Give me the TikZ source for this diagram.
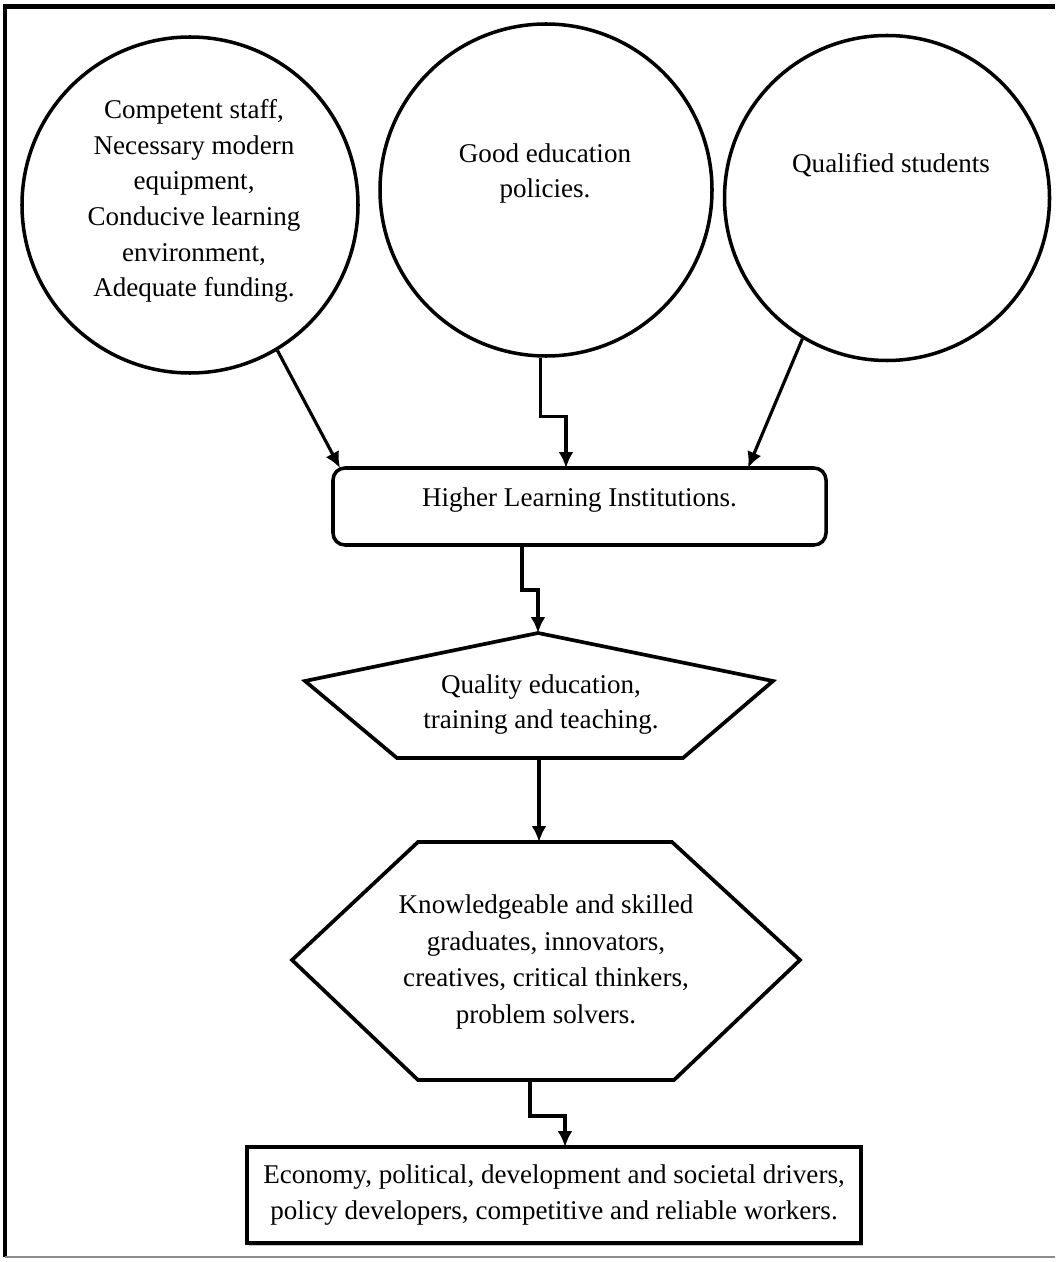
\documentclass[tikz,border=0pt]{standalone}
\usepackage{fontspec}
\setmainfont{Liberation Serif}
\usepackage{tikz}
\usetikzlibrary{positioning}
\usetikzlibrary{shapes}
\usetikzlibrary{arrows.meta}
\usetikzlibrary{shadows}
\tikzset{
  arrow_flow/.style={-{Latex[length=0.32cm, width=0.30cm]}, line width=1.8pt, color=black!100},
  frame_line/.style={line width=2.6pt, color=black!100},
  input_circle/.style={circle, draw, color=black!100, line width=2pt, inner sep=0},
  shape_text/.style={align=center, inner sep=0},
  shape_line/.style={line width=2.1pt, color=black!100, line join=miter},
  hli_box/.style={rectangle, rounded corners=0.24cm, draw, line width=2pt, minimum width=9.86cm, minimum height=1.54cm, text height=0.3cm, text depth=0.3cm},
  outcome_box/.style={rectangle, draw, line width=2.6pt, minimum width=12.28cm, minimum height=1.92cm, align=center, fill=white,
    drop shadow={shadow xshift=0.03cm, shadow yshift=-0.05cm, opacity=0.45}}}

\begin{document}
\begin{tikzpicture}[font=\fontsize{15.4}{20.3}\selectfont]
\useasboundingbox (0,0) rectangle (21.1,-25.24);

%% Frame
\draw[frame_line] (0.10,-25.14) -- (0.10,-0.13) -- (21.1,-0.13);
\draw[black!45, line width=0.8pt] (0.10,-25.14) -- (21.1,-25.14);

%% Inputs
\node[input_circle, minimum size=6.72cm] at (3.80,-4.10)  (staff) {};
\node[input_circle, minimum size=6.64cm] at (10.92,-3.80) (policies) {};
\node[input_circle, minimum size=6.50cm] at (17.74,-3.96) (students) {};

\node[shape_text] at (3.88,-4.02)  (staff_text) {Competent staff,\\Necessary modern\\equipment,\\Conducive learning\\environment,\\Adequate funding.};
\node[shape_text] at (10.90,-3.47) (policies_text) {Good education\\policies.};
\node[shape_text] at (17.82,-3.30) (students_text) {Qualified students};

%% Institutions
\node[hli_box] at (11.59,-10.13) (hli) {Higher Learning Institutions.};

\coordinate (hli_staff)    at (6.80,-9.36);
\coordinate (hli_policy)   at (11.32,-9.36);
\coordinate (hli_students) at (14.96,-9.36);
\coordinate (hli_out)      at (10.44,-10.90);

%% Quality education
\coordinate (q_top)    at (10.76,-12.66);
\coordinate (q_left)   at (6.10,-13.62);
\coordinate (q_right)  at (15.46,-13.62);
\coordinate (q_bright) at (13.66,-15.16);
\coordinate (q_bleft)  at (7.94,-15.16);
\coordinate (q_bottom) at (10.78,-15.16);
\draw[shape_line] (q_top) -- (q_right) -- (q_bright) -- (q_bleft) -- (q_left) -- cycle;
\node[shape_text] at (10.82,-14.09) (quality) {Quality education,\\training and teaching.};

%% Graduates
\coordinate (g_tleft)  at (8.36,-16.84);
\coordinate (g_tright) at (13.44,-16.84);
\coordinate (g_right)  at (16.00,-19.20);
\coordinate (g_bright) at (13.48,-21.60);
\coordinate (g_bleft)  at (8.36,-21.60);
\coordinate (g_left)   at (5.84,-19.20);
\coordinate (g_top)    at (10.78,-16.84);
\coordinate (g_bottom) at (10.60,-21.60);
\draw[shape_line] (g_tleft) -- (g_tright) -- (g_right) -- (g_bright) -- (g_bleft) -- (g_left) -- cycle;
\node[shape_text, font=\fontsize{15.4}{21}\selectfont] at (10.92,-19.24) (graduates) {Knowledgeable and skilled\\graduates, innovators,\\creatives, critical thinkers,\\problem solvers.};

%% Outcome
\node[outcome_box] at (11.08,-23.90) (drivers) {Economy, political, development and societal drivers,\\policy developers, competitive and reliable workers.};
\coordinate (drivers_in) at (11.30,-22.94);

%% Graph
\draw[arrow_flow] (staff.301) -- (hli_staff);
\draw[arrow_flow] (policies.268) -- ++(0,-1.18) -| (hli_policy);
\draw[arrow_flow] (students.239) -- (hli_students);
\draw[arrow_flow] (hli_out) -- ++(0,-0.90) -| (q_top);
\draw[arrow_flow] (q_bottom) -- (g_top);
\draw[arrow_flow] (g_bottom) -- ++(0,-0.72) -| (drivers_in);

\end{tikzpicture}
\end{document}
